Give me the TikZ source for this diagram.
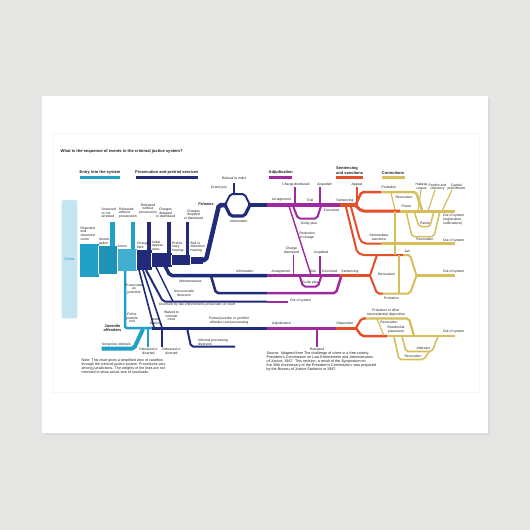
\documentclass[tikz,border=0pt]{standalone}
\usepackage{fontspec}
\setmainfont{Liberation Sans}
\usetikzlibrary{arrows.meta}

\definecolor{paper}{RGB}{229,229,227}
\definecolor{entry}{RGB}{32,160,200}
\definecolor{crimebox}{RGB}{196,228,240}
\definecolor{pros}{RGB}{33,43,122}
\definecolor{adj}{RGB}{160,40,160}
\definecolor{sent}{RGB}{228,78,40}
\definecolor{corr}{RGB}{214,190,92}
\definecolor{ink}{RGB}{30,30,30}

\begin{document}
\begin{tikzpicture}[x=1pt,y=-1pt,
    lbl/.style={font=\fontsize{3.4}{3.7}\selectfont, text=ink, align=center, inner sep=0pt},
    hdr/.style={font=\fontsize{4}{4.5}\selectfont\bfseries, text=ink, align=left, inner sep=0pt, anchor=south west},
    flow/.style={line width=#1pt, rounded corners=2pt},
    uline/.style={line width=2.2pt},
    revtip/.style={line width=0.8pt, -{Stealth[length=2.4pt,width=2.2pt]}}]
        \useasboundingbox (0,0) rectangle (530,530);

        % Photo background and card
        \fill[paper] (0,0) rectangle (530,530);
        \fill[black!14] (43.5,97.5) rectangle (489.5,434.5);
        \fill[white] (42,96) rectangle (488,433);
        \draw[black!4, line width=0.5pt] (52,133) rectangle (479,392);

        % Title and stage headers
        \node[hdr, anchor=west, font=\fontsize{4.1}{4.5}\selectfont\bfseries] (title) at (60.5,151.5) {What is the sequence of events in the criminal justice system?};
        \node[hdr] (hentry) at (79.5,174.5) {Entry into the system};
        \draw[entry, uline] (80,177.5) -- (120,177.5);
        \node[hdr] (hpros) at (135,174.5) {Prosecution and pretrial services};
        \draw[pros, uline] (135.5,177.5) -- (197.5,177.5);
        \node[hdr] (hadj) at (268.5,174.5) {Adjudication};
        \draw[adj, uline] (268.7,177.5) -- (291.7,177.5);
        \node[hdr] (hsent) at (336,174.5) {Sentencing\\and sanctions};
        \draw[sent, uline] (336,177.5) -- (363,177.5);
        \node[hdr] (hcorr) at (381.5,174.5) {Corrections};
        \draw[corr, uline] (381.7,177.5) -- (405,177.5);

        % Crime
        \fill[crimebox, rounded corners=2pt] (61.7,200) rectangle (77.3,318.3);
        \node[lbl, text=entry, font=\fontsize{3.8}{4}\selectfont] (crime) at (69.5,259.5) {Crime};

        % Entry blocks
        \fill[entry] (80,243.5) rectangle (98.5,276.5);
        \fill[entry!92!black] (98.5,246) rectangle (117,274);
        \fill[entry!85!white] (117,249) rectangle (136.5,271);
        \fill[entry] (110,221.5) rectangle (114.5,246);
        \fill[entry] (130.5,221.5) rectangle (134.5,249);

        % Prosecution blocks
        \fill[pros] (136.5,250) rectangle (151.5,270);
        \fill[pros] (151.5,253) rectangle (171.5,267);
        \fill[pros] (171.5,255) rectangle (190,265);
        \fill[pros] (190,256.5) rectangle (203,263.5);
        \fill[pros] (146.5,221.5) rectangle (150.5,250);
        \fill[pros] (166.5,221.5) rectangle (170.5,253);
        \fill[pros] (185.5,221.5) rectangle (189,255);
        \foreach \x/\a/\b in {98.5/246/274, 117/249/271, 136.5/250/270, 151.5/253/267, 171.5/255/265, 190/256.5/263.5}
            \draw[white, line width=0.4pt] (\x,\a) -- (\x,\b);

        % Felonies
        \draw[pros, flow=4.5] (200,260) -- (206,260) -- (219,205) -- (227,205);
        \draw[pros, flow=2] (225,205) -- (230.5,194) -- (244.5,194) -- (250,205);
        \draw[pros, flow=3.2] (225,205) -- (230.5,216) -- (244.5,216) -- (250,205);
        \draw[pros, line width=1.4pt] (234,194) -- (234,183);
        \draw[pros, line width=4.5pt] (248,205) -- (267,205);
        \draw[adj, line width=4pt] (267,205) -- (340,205);
        \draw[adj, line width=1.6pt] (295,205) -- (295,187);
        \draw[adj, line width=1.6pt] (320,205) -- (320,187);
        \draw[adj, flow=2] (293,206) -- (298,218.5) -- (317,218.5) -- (321,206);
        \draw[adj, line width=1.4pt] (289,206) -- (311,275);
        \draw[sent, line width=4pt] (340,205) -- (358,205);
        \draw[sent, line width=1.8pt] (357,205) -- (357,187);

        % Misdemeanors and lower paths
        \draw[pros, flow=3.5] (165,266) -- (170,275.5) -- (267,275.5);
        \draw[adj, line width=3.5pt] (267,275.5) -- (340,275.5);
        \draw[adj, line width=1.6pt] (293.5,275.5) -- (293.5,255);
        \draw[adj, line width=1.6pt] (320,275.5) -- (320,255.5);
        \draw[adj, flow=2] (300,277) -- (303,286.5) -- (318,286.5) -- (321,277);
        \draw[pros, flow=2.5] (211,276) -- (216,293) -- (267,293);
        \draw[adj, flow=2.5] (267,293) -- (336,293) -- (341,277);
        \draw[sent, line width=3.5pt] (340,275.5) -- (371,275.5);

        % Diversion
        \draw[pros, flow=2] (146,270) -- (163,301.5) -- (267,301.5);
        \draw[adj, line width=2pt] (267,301.5) -- (288,301.5);
        \draw[pros, line width=1.4pt] (156,267) -- (173,301.5);
        \draw[pros, line width=1.6pt] (139,270) -- (154,327.5);
        \draw[pros, line width=1.6pt] (143,270) -- (162,327.5);

        % Juveniles
        \draw[entry, flow=2.5] (125,271) -- (125,328) -- (153,328);
        \draw[entry, flow=4] (101.5,348.5) -- (134,348.5) -- (143,329);
        \draw[entry, line width=2pt] (147.5,328) -- (147.5,346.5);
        \draw[pros, line width=3pt] (152,328) -- (267,328);
        \draw[pros, line width=1.8pt] (162,328) -- (162,346.5);
        \draw[pros, flow=2] (187,328) -- (191,346.5) -- (235,346.5);
        \draw[adj, line width=3pt] (267,328) -- (336,328);
        \draw[adj, line width=2pt] (316.7,328) -- (316.7,346.5);
        \draw[sent, line width=3pt] (336,328) -- (357,328);

        % Adult corrections
        \draw[sent, flow=2.5] (356,204) -- (361.5,192) -- (381,192);
        \draw[corr, flow=2.5] (381,192) -- (416,192) -- (422,210);
        \draw[corr, line width=1.2pt] (391,192.5) -- (395,210);
        \draw[sent, flow=3] (356,206) -- (361.5,211) -- (400,211);
        \draw[corr, line width=3pt] (400,211) -- (455,211);
        \draw[corr, flow=1.5] (406,211) -- (412,236.5) -- (434,236.5) -- (440,211);
        \draw[corr, flow=1.5] (414,211) -- (419,226.5) -- (430,226.5) -- (434,211);
        \draw[corr, line width=1.2pt] (418,211) -- (421,190);
        \draw[corr, line width=1.2pt] (428,211) -- (435,190);
        \draw[corr, line width=1.2pt] (442,211) -- (452,190);
        \draw[sent, flow=2] (351,207) -- (360,240) -- (364,243.5) -- (381,243.5);
        \draw[corr, line width=2.5pt] (381,243.5) -- (455,243.5);
        \draw[sent, flow=2] (346,207) -- (357,252) -- (362,255) -- (403,255);
        \draw[corr, flow=2] (403,255) -- (410,255) -- (416.5,275.5);
        \draw[sent, flow=2] (370,275.5) -- (377,255);
        \draw[sent, flow=2] (370,275.5) -- (377,293.5) -- (383,293.5);
        \draw[corr, flow=2] (383,293.5) -- (410,293.5) -- (416.5,275.5);
        \draw[corr, line width=2.5pt] (416,275.5) -- (455,275.5);
        \draw[corr, line width=1.2pt] (395,211) -- (395,255);
        \draw[corr, line width=1.2pt] (399,255) -- (399,293.5);
        \draw[corr, revtip] (395,226) -- (395,219);
        \draw[corr, revtip] (395,253) -- (395,247);
        \draw[corr, revtip] (399,288) -- (399,281);

        % Juvenile corrections
        \draw[sent, flow=2.2] (356,328) -- (361.5,318.5) -- (366,318.5);
        \draw[corr, flow=2.2] (366,318.5) -- (409,318.5) -- (414,336);
        \draw[sent, flow=2.5] (356,328) -- (361.5,336) -- (387,336);
        \draw[corr, line width=2.5pt] (387,336) -- (455,336);
        \draw[corr, line width=1.2pt] (377,319) -- (384,335.5);
        \draw[corr, flow=1.6] (402,336.5) -- (406,351.5) -- (432,351.5) -- (438,336.5);
        \draw[corr, flow=1.6] (394,336.5) -- (399,359.5) -- (424,359.5) -- (429,351.5);

        % Labels: entry and prosecution
        \node[lbl, align=left, anchor=west] (reported) at (80.5,233.5) {Reported\\and\\observed\\crime};
        \node[lbl, align=left, anchor=west] (invest) at (98.8,241.5) {Investi-\\gation};
        \node[lbl, align=left, anchor=west] (unsolved) at (101.5,213) {Unsolved\\or not\\arrested};
        \node[lbl, align=left, anchor=west] (relwo) at (119,213) {Released\\without\\prosecution};
        \node[lbl, anchor=west] (arrest) at (117.5,246.5) {Arrest};
        \node[lbl, align=left, anchor=west] (filed) at (137,245.5) {Charges\\filed};
        \node[lbl] (relpros) at (148,209) {Released\\without\\prosecution};
        \node[lbl] (dropa) at (165.5,213) {Charges\\dropped\\or dismissed};
        \node[lbl] (dropb) at (193.5,214.5) {Charges\\dropped\\or dismissed};
        \node[lbl, align=left, anchor=west] (initial) at (152,245.5) {Initial\\appear-\\ance};
        \node[lbl, align=left, anchor=west] (prelim) at (172,247) {Prelim-\\inary\\hearing};
        \node[lbl, align=left, anchor=west] (bail) at (190.5,247) {Bail or\\detention\\hearing};
        \node[lbl, font=\fontsize{3.8}{4}\selectfont\bfseries\itshape] (felonies) at (206,204.5) {Felonies};
        \node[lbl] (grandjury) at (219,187.5) {Grand jury};
        \node[lbl] (refusal) at (234,178) {Refusal to indict};
        \node[lbl] (infoa) at (239,221.5) {Information};
        \node[lbl] (misd) at (190.5,281.5) {Misdemeanors};
        \node[lbl] (infob) at (245,271.5) {Information};
        \node[lbl] (unsucc) at (184,293.5) {Unsuccessful\\diversion};
        \node[lbl, anchor=west] (diversion) at (159,304.8) {Diversion by law enforcement, prosecutor, or court};
        \node[lbl, anchor=west] (outdiv) at (290,301) {Out of system};

        % Labels: adjudication
        \node[lbl] (arraina) at (281.5,199.5) {Arraignment};
        \node[lbl] (triala) at (310,200.5) {Trial};
        \node[lbl] (dismissa) at (296,184.3) {Charge dismissed};
        \node[lbl] (acquita) at (324.5,184.3) {Acquitted};
        \node[lbl] (guiltya) at (309,223.3) {Guilty plea};
        \node[lbl] (convicta) at (331.5,210) {Convicted};
        \node[lbl, align=left, anchor=west] (reduce) at (299.5,235.5) {Reduction\\of charge};
        \node[lbl] (dismissb) at (291.5,250) {Charge\\dismissed};
        \node[lbl] (acquitb) at (321,252.3) {Acquitted};
        \node[lbl] (arrainb) at (281,271.5) {Arraignment};
        \node[lbl] (trialb) at (312.5,271.5) {Trial};
        \node[lbl] (convictb) at (329.5,271.5) {Convicted};
        \node[lbl] (guiltyb) at (310.5,283) {Guilty plea};

        % Labels: sentencing and corrections
        \node[lbl] (senta) at (345,201) {Sentencing};
        \node[lbl] (appeal) at (357,184.3) {Appeal};
        \node[lbl] (sentb) at (350,271.5) {Sentencing};
        \node[lbl] (probationa) at (389,187.5) {Probation};
        \node[lbl] (revoka) at (404,197.3) {Revocation};
        \node[lbl] (prison) at (406.5,206.5) {Prison};
        \node[lbl] (habeas) at (421.5,186.5) {Habeas\\corpus};
        \node[lbl] (pardon) at (437.5,187) {Pardon and\\clemency};
        \node[lbl] (capital) at (456.5,187) {Capital\\punishment};
        \node[lbl, align=left, anchor=north west] (outprison) at (443,214) {Out of system\\(registration,\\notifications)};
        \node[lbl] (parole) at (425,223.3) {Parole};
        \node[lbl] (revokb) at (425,239.6) {Revocation};
        \node[lbl] (intermed) at (379,237.5) {Intermediate\\sanctions};
        \node[lbl, anchor=west] (outint) at (443,240.5) {Out of system};
        \node[lbl] (jail) at (407,251.7) {Jail};
        \node[lbl] (revokc) at (386.5,274) {Revocation};
        \node[lbl, anchor=west] (outjail) at (443,272) {Out of system};
        \node[lbl] (probationb) at (391.5,297.8) {Probation};

        % Labels: juveniles
        \node[lbl] (prosjuv) at (134,289) {Prosecuted\\as\\juveniles};
        \node[lbl] (police) at (132,318) {Police\\juvenile\\unit};
        \node[lbl] (intake) at (155.5,321.5) {Intake\\hearing};
        \node[lbl] (waived) at (171.5,316) {Waived to\\criminal\\court};
        \node[lbl, font=\fontsize{3.9}{4.2}\selectfont\bfseries] (juvenile) at (112.5,328) {Juvenile\\offenders};
        \node[lbl] (nonpolice) at (116.5,344.3) {Nonpolice referrals};
        \node[lbl] (relpolice) at (148.5,351.5) {Released or\\diverted};
        \node[lbl] (relintake) at (171.5,351.5) {Released or\\diverted};
        \node[lbl] (formal) at (229,320.5) {Formal juvenile or youthful\\offender court processing};
        \node[lbl, align=left, anchor=west] (informal) at (198,342.5) {Informal processing\\diversion};
        \node[lbl] (adjjuv) at (281.5,323.5) {Adjudication};
        \node[lbl] (released) at (317,349) {Released};
        \node[lbl] (disposition) at (345,323.5) {Disposition};
        \node[lbl] (probjuv) at (386,312.5) {Probation or other\\nonresidential disposition};
        \node[lbl] (revokjuv) at (389,322.7) {Revocation};
        \node[lbl] (residential) at (396,329.3) {Residential\\placement};
        \node[lbl, anchor=west] (outjuv) at (443,332) {Out of system};
        \node[lbl] (aftercare) at (423.5,347.8) {Aftercare};
        \node[lbl] (revokjuvb) at (413,356.5) {Revocation};

        % Notes
        \node[lbl, align=left, anchor=north west, font=\fontsize{3.6}{4.2}\selectfont] (note) at (81.5,358.5) {Note: This chart gives a simplified view of caseflow\\through the criminal justice system. Procedures vary\\among jurisdictions. The weights of the lines are not\\intended to show actual size of caseloads.};
        \node[lbl, align=left, anchor=north west, font=\fontsize{3.7}{4.1}\selectfont] (source) at (266.5,351.5) {Source: Adapted from The challenge of crime in a free society.\\President's Commission on Law Enforcement and Administration\\of Justice, 1967. This revision, a result of the Symposium on\\the 30th Anniversary of the President's Commission, was prepared\\by the Bureau of Justice Statistics in 1997.};
\end{tikzpicture}
\end{document}
